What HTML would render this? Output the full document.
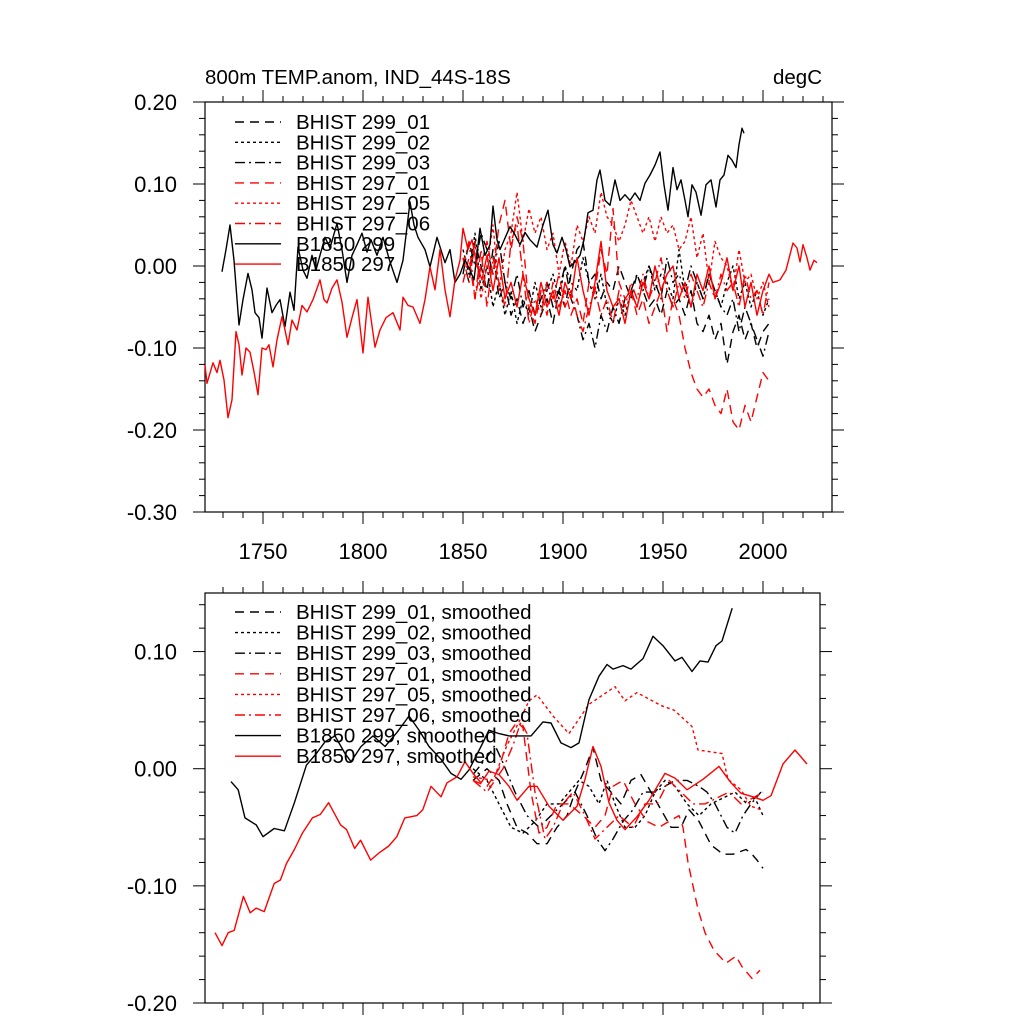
<!DOCTYPE html>
<html><head><meta charset="utf-8">
<style>
html,body{margin:0;padding:0;background:#fff;}
svg{display:block;font-family:"Liberation Sans",sans-serif;}
</style></head>
<body>
<svg id="chart" width="1024" height="1024" viewBox="0 0 1024 1024" xmlns="http://www.w3.org/2000/svg">
<text x="205" y="84" font-size="20.5">800m TEMP.anom, IND_44S-18S</text>
<text x="822" y="84" font-size="20.5" text-anchor="end">degC</text>
<g id="top"></g>
<g id="bot"></g>
</svg>
<script>
// ---------- TOP PANEL DATA (annual-ish) ----------
const histYears = [1850,1853,1856,1859,1862,1865,1868,1871,1874,1877,1880,1883,1886,1889,1892,1895,1898,1901,1904,1907,1910,1913,1916,1919,1922,1925,1928,1931,1934,1937,1940,1943,1946,1949,1952,1955,1958,1961,1964,1967,1970,1973,1976,1979,1982,1985,1988,1991,1994,1997,2000,2003];
const h299_01 = [0.01,-0.02,0.03,0.00,-0.03,0.02,-0.04,-0.02,-0.06,-0.04, -0.07,-0.05,-0.08,-0.06,-0.04,-0.07,-0.03,-0.05,-0.01,0.02, 0.03,-0.02,-0.01,-0.04,-0.02,-0.03,0.00,-0.02,-0.04,-0.01, -0.03,-0.05,-0.04,-0.06,-0.03,-0.05,-0.04,-0.06,-0.03,-0.07, -0.08,-0.06,-0.09,-0.07,-0.12,-0.08,-0.06,-0.09,-0.07,-0.10, -0.08,-0.07];
const h299_02 = [0.02,-0.01,0.04,-0.03,0.00,-0.05,-0.02,-0.06,-0.03,-0.07, -0.04,-0.06,-0.02,-0.05,-0.03,-0.01,-0.04,0.00,-0.02,-0.03, 0.01,-0.02,-0.04,-0.01,-0.05,-0.07,-0.04,-0.06,-0.03,-0.05, -0.02,0.00,-0.03,-0.01,-0.02,-0.04,0.02,-0.03,-0.05,-0.02, -0.04,-0.01,-0.03,-0.05,-0.02,0.00,-0.04,-0.02,-0.05,-0.03, -0.06,-0.04];
const h299_03 = [-0.01,0.03,0.00,0.04,0.02,-0.01,0.03,-0.02,-0.04,-0.01, -0.05,-0.03,-0.06,-0.04,-0.02,-0.05,-0.03,0.00,-0.04,-0.06, -0.09,-0.07,-0.10,-0.06,-0.08,-0.05,-0.07,-0.04,-0.03,-0.01, -0.03,0.00,-0.02,-0.04,0.01,-0.02,-0.01,-0.03,0.00,-0.02, -0.04,-0.01,-0.03,-0.05,-0.06,-0.04,-0.08,-0.05,-0.07,-0.09, -0.11,-0.08];
const h297_01 = [-0.02,0.01,-0.04,0.00,0.03,-0.01,0.05,0.08,0.02,0.06, 0.03,-0.05,-0.07,-0.03,-0.06,-0.02,-0.05,-0.03,-0.06,-0.04, -0.07,-0.02,-0.03,0.02,-0.01,0.07,-0.02,-0.04,-0.03,-0.06, -0.04,-0.07,-0.05,-0.03,-0.08,-0.04,-0.06,-0.10,-0.13,-0.15, -0.16,-0.15,-0.17,-0.18,-0.15,-0.19,-0.20,-0.17,-0.19,-0.16, -0.13,-0.14];
const h297_05 = [0.01,-0.02,0.03,-0.04,0.00,0.05,-0.03,0.02,0.04,0.09, 0.03,0.07,0.04,0.06,0.02,0.04,-0.01,0.03,0.00,0.05, 0.03,0.06,0.04,0.09,0.06,0.05,0.03,0.05,0.08,0.06, 0.04,0.06,0.03,0.06,0.04,0.05,0.02,0.03,0.06,0.01, 0.04,-0.02,0.03,0.01,0.00,-0.03,0.02,-0.02,-0.01,-0.04, -0.02,-0.05];
const h297_06 = [0.00,0.03,-0.04,0.02,-0.05,0.01,-0.02,-0.05,0.03,0.05, -0.01,-0.07,-0.04,-0.06,-0.02,-0.04,-0.01,-0.05,-0.03,-0.06, -0.08,-0.05,-0.03,-0.06,-0.04,-0.07,-0.03,-0.05,-0.02,-0.04, -0.01,-0.04,-0.02,0.01,-0.03,-0.05,-0.02,-0.04,-0.01,-0.03, -0.05,-0.02,-0.04,-0.01,-0.03,-0.02,-0.05,-0.01,-0.04,-0.03, -0.06,-0.02];
const c299Years = [1729.5,1731.5,1733.5,1735.5,1738,1740,1742.5,1744.5,1746,1748,1749.5,1752,1754.5,1756.5,1758.5,1761,1763.5,1765.5,1767.5,1770,1772,1774.5,1776.5,1778.5,1781,1783.5,1787,1789.5,1792,1794.5,1797,1799.5,1802,1804,1807,1810,1813.5,1817,1820,1823.5,1825.5,1827.5,1831,1833.5,1837,1841,1843.5,1846,1848.5,1851,1853.5,1855.5,1858.5,1861,1863.5,1865,1867,1868.5,1873.5,1876,1878.5,1881,1883.5,1887,1890,1892.5,1895,1897,1899.5,1901.5,1903.5,1906,1908.5,1910.5,1912.5,1915,1917,1918.5,1921,1923.5,1926,1928.5,1931,1933.5,1936,1938.5,1941,1943.5,1946,1948.5,1950.5,1952.5,1955,1957,1959,1961,1962.5,1964.5,1966.5,1969,1971.5,1974,1976.5,1978.5,1980.5,1982.5,1984.5,1986.5,1988,1989.5,1990.5];
const c299Vals = [-0.007,0.02,0.05,0.007,-0.072,-0.041,-0.009,-0.029,-0.057,-0.063,-0.088,-0.027,-0.057,-0.048,-0.041,-0.074,-0.032,-0.054,0.023,-0.005,-0.015,0.013,-0.005,0.013,0.035,0.022,0.052,0.02,-0.02,0.013,0.026,0.04,0.017,0.032,0.013,0.035,0.005,-0.02,0.007,0.078,0.05,0.035,0.02,-0.001,0.035,0.004,0.02,-0.02,-0.01,0.007,-0.005,-0.017,0.046,0.013,0.026,0.073,0.032,0.02,0.048,0.038,0.026,0.041,0.032,0.023,0.05,0.068,0.026,0.016,0.035,0.02,-0.001,0.005,0.013,0.032,0.065,0.068,0.105,0.117,0.08,0.074,0.105,0.08,0.087,0.08,0.089,0.08,0.101,0.111,0.123,0.139,0.099,0.068,0.12,0.093,0.105,0.08,0.06,0.099,0.09,0.062,0.099,0.105,0.072,0.105,0.111,0.135,0.129,0.12,0.148,0.168,0.162];
const c297Years = [1721,1722,1725,1727,1728.5,1730.5,1732.5,1734.5,1736.5,1738,1739.5,1741.5,1743.5,1745.5,1747.5,1749.5,1751.5,1753,1755,1757,1759.5,1761,1762.5,1764.5,1767,1769.5,1772,1775,1778.5,1780.5,1782,1784.5,1787,1789.5,1792,1794.5,1797,1800,1802.5,1806,1808.5,1811.5,1815,1818.5,1820,1822.5,1825,1828.5,1831,1833.5,1836,1838.5,1841,1843.5,1846,1848.5,1850,1852.5,1854.5,1857,1859.5,1862,1865,1868,1871,1874,1877,1880,1883,1886,1889,1892,1895,1898,1901,1904,1907,1910,1913,1916,1919,1922,1925,1928,1931,1934,1937,1940,1943,1946,1949,1952,1955,1958,1961,1964,1967,1970,1973,1976,1979,1982,1985,1988,1991,1994,1997,2000,2003,2005,2008.5,2011.5,2015,2017,2018.5,2020,2022,2023.5,2025.5,2027];
const c297Vals = [-0.121,-0.143,-0.118,-0.13,-0.115,-0.139,-0.185,-0.163,-0.08,-0.096,-0.133,-0.10,-0.105,-0.129,-0.157,-0.10,-0.102,-0.096,-0.123,-0.09,-0.062,-0.078,-0.096,-0.066,-0.078,-0.048,-0.056,-0.041,-0.017,-0.041,-0.045,-0.027,-0.017,-0.044,-0.087,-0.063,-0.041,-0.106,-0.038,-0.099,-0.078,-0.063,-0.057,-0.078,-0.038,-0.048,-0.05,-0.07,-0.041,-0.001,-0.029,0.02,-0.029,-0.062,-0.017,0.007,0.046,0.02,0.032,0.0,-0.017,0.013,-0.03,0.01,-0.04,-0.02,-0.05,-0.01,-0.04,-0.06,-0.02,-0.05,-0.03,-0.06,-0.02,-0.04,0.01,-0.03,-0.06,-0.02,0.03,-0.03,-0.05,-0.04,-0.07,-0.03,-0.05,-0.02,-0.04,0.00,-0.03,-0.01,0.00,-0.04,-0.02,-0.05,-0.01,-0.03,0.0,-0.04,-0.02,0.01,-0.03,0.0,-0.05,-0.02,-0.06,-0.03,-0.01,-0.02,-0.017,-0.005,0.028,0.022,0.005,0.026,0.01,-0.005,0.007,0.004];

// ---------- BOTTOM PANEL DATA (smoothed) ----------
const s297_01Years = [1855,1862,1868,1873,1877,1880,1884,1888,1892,1897,1903,1910,1916,1921,1925,1930,1936,1942,1948,1953,1958,1960,1962.5,1965,1967.5,1971,1975.5,1981.5,1986.5,1989.5,1994.5,1998.5];
const s297_01 = [-0.01,-0.015,0.0,0.03,0.04,0.035,-0.02,-0.055,-0.05,-0.03,-0.03,-0.04,-0.05,-0.04,-0.015,-0.01,-0.03,-0.045,-0.05,-0.045,-0.04,-0.05,-0.08,-0.10,-0.12,-0.14,-0.155,-0.166,-0.16,-0.169,-0.179,-0.172];
const s297_05Years = [1855,1865,1872,1878,1883,1887,1895,1903,1913,1926,1931,1937,1949,1955.5,1964.5,1967.5,1979.5,1982.5,1989,1994,1999];
const s297_05 = [-0.007,-0.01,0.02,0.04,0.058,0.063,0.045,0.03,0.055,0.07,0.058,0.065,0.054,0.05,0.036,0.016,0.013,-0.009,-0.018,-0.032,-0.035];
const s297_06Years = [1855,1862,1870,1875,1879,1882,1886,1891,1895,1900,1905,1911,1916,1922,1928,1935,1941,1947,1953,1959,1965,1971,1977,1983,1989,1995,2000];
const s297_06 = [-0.01,-0.02,0.0,0.02,0.04,0.03,-0.02,-0.06,-0.05,-0.03,-0.02,-0.04,-0.06,-0.05,-0.04,-0.05,-0.03,-0.03,-0.01,-0.02,-0.03,-0.03,-0.025,-0.02,-0.03,-0.025,-0.02];
const s299_01Years = [1855,1862,1868,1872,1877,1882,1887,1892,1897,1902,1906,1911,1915,1919,1924,1929,1934,1939,1944,1949,1954,1959,1963,1968,1974,1980,1985,1991.5,1994,1997,2000];
const s299_01 = [-0.01,0.0,-0.01,-0.03,-0.05,-0.055,-0.064,-0.064,-0.05,-0.04,-0.02,0.0,0.018,-0.01,-0.02,-0.03,-0.01,-0.005,-0.02,-0.035,-0.05,-0.05,-0.035,-0.045,-0.065,-0.073,-0.073,-0.069,-0.072,-0.078,-0.085];
const s299_02Years = [1855,1862,1868,1874,1880,1886,1892,1898,1903,1908,1913,1918,1922,1926,1931,1936,1941,1946,1951,1956,1962,1968,1974,1980,1986,1992,1996,2000];
const s299_02 = [0.0,-0.01,-0.03,-0.05,-0.055,-0.045,-0.03,-0.03,-0.02,-0.01,-0.015,-0.03,-0.01,-0.03,-0.05,-0.05,-0.04,-0.02,-0.01,-0.015,-0.03,-0.04,-0.03,-0.025,-0.02,-0.03,-0.025,-0.04];
const s299_03Years = [1855,1862,1866,1870,1876,1882,1888,1894,1900,1906,1912,1917,1921,1925,1930,1935,1940,1946,1951,1956,1962,1968,1972,1976,1982,1986,1990,1994,1999];
const s299_03 = [-0.005,0.01,0.02,0.005,-0.02,-0.04,-0.05,-0.04,-0.03,-0.02,-0.04,-0.06,-0.07,-0.06,-0.045,-0.035,-0.02,-0.02,-0.015,-0.01,-0.01,-0.015,-0.02,-0.03,-0.05,-0.055,-0.04,-0.03,-0.02];
const sc299Years = [1734,1737.6,1741,1746.6,1750,1755.6,1760.7,1765.7,1771.7,1776.7,1781,1786,1791,1794,1799,1805,1811,1817,1823,1828,1833,1839,1844,1849,1853,1859,1863,1868,1873,1879,1884,1890,1894,1899,1904,1908,1913,1918,1922,1925,1930,1934,1940,1945,1950,1956,1959.5,1964.5,1968.5,1972.5,1976.5,1979.5,1984.6];
const sc299 = [-0.011,-0.018,-0.042,-0.048,-0.058,-0.051,-0.053,-0.029,0.003,0.013,0.023,0.028,0.013,0.006,0.019,0.028,0.019,0.031,0.045,0.033,0.019,0.008,-0.004,-0.009,-0.001,0.019,0.033,0.030,0.028,0.028,0.028,0.040,0.039,0.022,0.018,0.022,0.059,0.079,0.089,0.085,0.088,0.085,0.094,0.113,0.105,0.092,0.095,0.083,0.092,0.091,0.105,0.109,0.137];
const sc297Years = [1726,1729.5,1732.6,1735.6,1740.2,1743.6,1746.6,1750.6,1755.6,1758.7,1761.7,1765.7,1769.7,1774.7,1778.7,1782.8,1788.8,1791.8,1795.8,1798.8,1803.8,1807.9,1812.9,1816.9,1820.9,1826.9,1829.9,1834,1839,1842,1847,1851,1855,1859,1863,1868,1873,1877,1883,1887,1893,1900,1907,1911,1915,1919,1923,1927,1931,1937,1943,1951,1956,1962,1970,1978,1984,1989,1995,2000,2004,2010,2016,2022];
const sc297 = [-0.140,-0.151,-0.140,-0.138,-0.109,-0.123,-0.119,-0.122,-0.098,-0.095,-0.081,-0.069,-0.055,-0.042,-0.039,-0.029,-0.048,-0.052,-0.068,-0.061,-0.078,-0.072,-0.066,-0.058,-0.042,-0.040,-0.035,-0.015,-0.024,-0.012,-0.007,0.006,-0.004,-0.012,-0.002,-0.005,-0.015,-0.027,-0.015,-0.015,-0.032,-0.044,-0.032,-0.009,0.019,0.002,-0.029,-0.044,-0.052,-0.041,-0.027,-0.004,-0.008,-0.018,-0.009,0.002,-0.012,-0.021,-0.024,-0.027,-0.023,0.004,0.016,0.004];

// ---------- axes ----------
const NS='http://www.w3.org/2000/svg';
function mk(tag, attrs, parent){const e=document.createElementNS(NS,tag);for(const k in attrs)e.setAttribute(k,attrs[k]);parent.appendChild(e);return e;}
const DASH={dash:'9,6',dot:'3,3',dashdot:'10,4,2,4',solid:''};

function panel(g, cfg){
  const xs = y => cfg.x0 + (y - cfg.xmin) * cfg.pxPerYr;
  const ys = v => cfg.yTop + (cfg.ymax - v) / (cfg.ymax - cfg.ymin) * (cfg.yBot - cfg.yTop);
  const frame = mk('rect',{x:cfg.x0,y:cfg.yTop,width:cfg.x1-cfg.x0,height:cfg.yBot-cfg.yTop,fill:'none',stroke:'#000','stroke-width':1.2},g);
  
  
  for(let yr=1730; yr<=2030; yr+=10){
    const x=xs(yr); if(x<cfg.x0||x>cfg.x1) continue;
    const major = yr%50===0, len = major?12:6;
    const t1=mk('line',{x1:x,x2:x,y1:cfg.yBot,y2:cfg.yBot+len,stroke:'#000','stroke-width':1},g);
     
    const t2=mk('line',{x1:x,x2:x,y1:cfg.yTop,y2:cfg.yTop-len,stroke:'#000','stroke-width':1},g);
     
    if(major && cfg.xLabels){
      const tl=mk('text',{x:x,y:cfg.yBot+47,'font-size':22,'text-anchor':'middle'},g);
      tl.textContent=yr;
       
    }
  }
  for(let i=Math.round(cfg.ymin*100); i<=Math.round(cfg.ymax*100); i+=2){
    const v=i/100, y=ys(v);
    const major = i%10===0, len = major?12:6;
    const a=mk('line',{x1:cfg.x0,x2:cfg.x0-len,y1:y,y2:y,stroke:'#000','stroke-width':1},g);
     
    const b=mk('line',{x1:cfg.x1,x2:cfg.x1+len,y1:y,y2:y,stroke:'#000','stroke-width':1},g);
     
    if(major){
      const tl=mk('text',{x:177,y:y+8,'font-size':22,'text-anchor':'end'},g);
      tl.textContent=(v<0?'-':'')+Math.abs(v).toFixed(2);
       
    }
  }
  cfg.series.forEach(s=>{
    const d=s.yrs.map((yr,i)=>(i?'L':'M')+xs(yr).toFixed(1)+','+ys(s.vals[i]).toFixed(1)).join('');
    const p=mk('path',{d:d,fill:'none',stroke:s.color,'stroke-width':1.4,'stroke-dasharray':DASH[s.style],'stroke-linejoin':'round'},g);
    
    
  });
  cfg.series.forEach((s,i)=>{
    const y=cfg.legY + i*cfg.legDy;
    const l=mk('line',{x1:235,x2:281,y1:y,y2:y,stroke:s.color,'stroke-width':1.4,'stroke-dasharray':DASH[s.style]},g);
    
    
    const t=mk('text',{x:296,y:y+7,'font-size':cfg.legFont},g);
    t.textContent=s.label;
    
    
  });
}

panel(document.getElementById('top'),{
  prefix:'top', x0:205,x1:832,yTop:102,yBot:512,xmin:1721,pxPerYr:2,ymin:-0.30,ymax:0.20,xLabels:true,
  legY:122, legDy:20.3, legFont:20.5,
  series:[
    {id:'bhist-299-01',label:'BHIST 299_01',color:'#000',style:'dash',yrs:histYears,vals:h299_01},
    {id:'bhist-299-02',label:'BHIST 299_02',color:'#000',style:'dot',yrs:histYears,vals:h299_02},
    {id:'bhist-299-03',label:'BHIST 299_03',color:'#000',style:'dashdot',yrs:histYears,vals:h299_03},
    {id:'bhist-297-01',label:'BHIST 297_01',color:'#f00',style:'dash',yrs:histYears,vals:h297_01},
    {id:'bhist-297-05',label:'BHIST 297_05',color:'#f00',style:'dot',yrs:histYears,vals:h297_05},
    {id:'bhist-297-06',label:'BHIST 297_06',color:'#f00',style:'dashdot',yrs:histYears,vals:h297_06},
    {id:'b1850-299',label:'B1850 299',color:'#000',style:'solid',yrs:c299Years,vals:c299Vals},
    {id:'b1850-297',label:'B1850 297',color:'#f00',style:'solid',yrs:c297Years,vals:c297Vals}
  ]
});
panel(document.getElementById('bot'),{
  prefix:'bottom', x0:205,x1:820,yTop:593,yBot:1003,xmin:1721,pxPerYr:2,ymin:-0.20,ymax:0.15,xLabels:false,
  legY:612, legDy:20.6, legFont:20.5,
  series:[
    {id:'bhist-299-01-smoothed',label:'BHIST 299_01, smoothed',color:'#000',style:'dash',yrs:s299_01Years,vals:s299_01},
    {id:'bhist-299-02-smoothed',label:'BHIST 299_02, smoothed',color:'#000',style:'dot',yrs:s299_02Years,vals:s299_02},
    {id:'bhist-299-03-smoothed',label:'BHIST 299_03, smoothed',color:'#000',style:'dashdot',yrs:s299_03Years,vals:s299_03},
    {id:'bhist-297-01-smoothed',label:'BHIST 297_01, smoothed',color:'#f00',style:'dash',yrs:s297_01Years,vals:s297_01},
    {id:'bhist-297-05-smoothed',label:'BHIST 297_05, smoothed',color:'#f00',style:'dot',yrs:s297_05Years,vals:s297_05},
    {id:'bhist-297-06-smoothed',label:'BHIST 297_06, smoothed',color:'#f00',style:'dashdot',yrs:s297_06Years,vals:s297_06},
    {id:'b1850-299-smoothed',label:'B1850 299, smoothed',color:'#000',style:'solid',yrs:sc299Years,vals:sc299},
    {id:'b1850-297-smoothed',label:'B1850 297, smoothed',color:'#f00',style:'solid',yrs:sc297Years,vals:sc297}
  ]
});
</script>
</body></html>
